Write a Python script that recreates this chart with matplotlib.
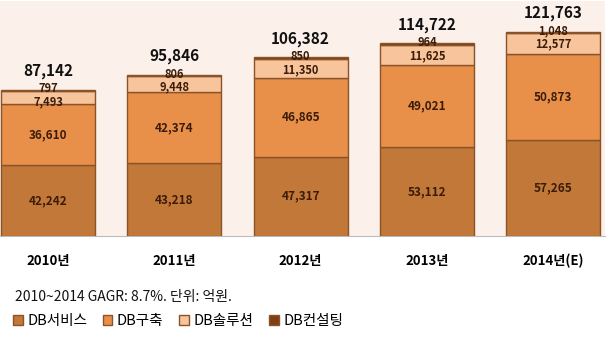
import numpy as np
from matplotlib import pyplot as plt

plt.rcParams['font.family'] = ['Noto Sans CJK KR', 'DejaVu Sans']

years = ["2010년", "2011년", "2012년", "2013년", "2014년(E)"]
db_service = [42242, 43218, 47317, 53112, 57265]
db_build = [36610, 42374, 46865, 49021, 50873]
db_solution = [7493, 9448, 11350, 11625, 12577]
db_consulting = [797, 806, 850, 964, 1048]
totals = [87142, 95846, 106382, 114722, 121763]

series = [
    ("DB서비스", db_service, "#C27838"),
    ("DB구축", db_build, "#E8904A"),
    ("DB솔루션", db_solution, "#F8C49C"),
    ("DB컨설팅", db_consulting, "#7E3E12"),
]

fig = plt.figure(figsize=(6.06, 3.5), dpi=100)
fig.patch.set_facecolor("white")
ax = fig.add_axes([0, (350 - 236) / 350, 605 / 606, 235 / 350])
ax.set_facecolor("#FCF0EA")

px = 140000 / 235  # data units per pixel

x = np.arange(len(years))
bottom = np.zeros(len(years))
handles = []
for i, (name, vals, color) in enumerate(series):
    vals = np.array(vals)
    b = ax.bar(x, vals, 0.745, bottom=bottom, color=color,
               edgecolor="#8A5328", linewidth=1.0, label=name)
    handles.append(b)
    for xi, v, bt in zip(x, vals, bottom):
        y = bt + v / 2
        size = 8.5
        if i == 2:
            # keep the small solution label clear of the consulting label
            y = min(y, totals[xi] - 12 * px)
            size = 8
        if i == 3:
            y = totals[xi] + 1 * px
            size = 8
        ax.text(xi, y, f"{v:,}", ha="center", va="center",
                fontsize=size, fontweight="bold", color="#3A1C08")
    bottom += vals

for xi, t in zip(x, totals):
    ax.annotate(f"{t:,}", (xi, t), xytext=(0, 13.5), textcoords="offset points",
                ha="center", va="center", fontsize=11, fontweight="bold",
                color="#111111")

ax.set_xlim(-0.38, 4.41)
ax.set_ylim(0, 140000)
ax.set_yticks([])
ax.set_xticks(x)
ax.set_xticklabels(years, fontsize=9.5, fontweight="bold")
ax.tick_params(axis="x", length=0, pad=13)
for s in ["top", "left", "right"]:
    ax.spines[s].set_visible(False)
ax.spines["bottom"].set_color("#BBBBBB")

fig.text(15 / 606, 1 - 297 / 350, "2010~2014 GAGR: 8.7%. 단위: 억원.",
         fontsize=10, va="center", ha="left", color="#111111")

fig.legend(handles=handles, loc="center left",
           bbox_to_anchor=(0.005, 1 - 321 / 350), ncol=4, frameon=False,
           handlelength=0.65, handleheight=0.65,
           handletextpad=0.3, columnspacing=1.1, borderaxespad=0.3,
           prop={"weight": "medium", "size": 10.5})

fig.savefig("out.png", dpi=100)
